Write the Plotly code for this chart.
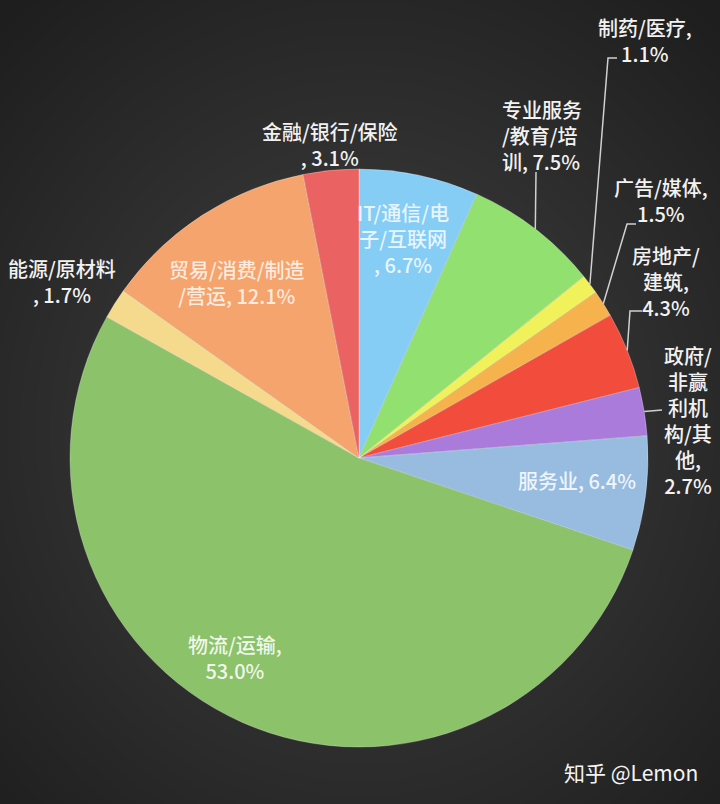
import numpy as np
import plotly.graph_objects as go

# ---------------- data ----------------
categories = ["IT/通信/电子/互联网", "专业服务/教育/培训", "制药/医疗", "广告/媒体",
              "房地产/建筑", "政府/非赢利机构/其他", "服务业", "物流/运输",
              "能源/原材料", "贸易/消费/制造/营运", "金融/银行/保险"]
values = [6.7, 7.5, 1.1, 1.5, 4.3, 2.7, 6.4, 53.0, 1.7, 12.1, 3.1]
label_texts = [
    "IT/通信/电<br>子/互联网<br>, 6.7%",
    "专业服务<br>/教育/培<br>训, 7.5%",
    "制药/医疗,<br>1.1%",
    "广告/媒体,<br>1.5%",
    "房地产/<br>建筑,<br>4.3%",
    "政府/<br>非赢<br>利机<br>构/其<br>他,<br>2.7%",
    "服务业, 6.4%",
    "物流/运输,<br>53.0%",
    "能源/原材料<br>, 1.7%",
    "贸易/消费/制造<br>/营运, 12.1%",
    "金融/银行/保险<br>, 3.1%",
]

# ---------------- styles / layout ----------------
W, H = 720, 804
CX, CY, R = 359, 458, 289
colors = ["#86cdf6", "#92e070", "#f1f15c", "#f6b24c", "#f24c3c", "#ab7bdb",
          "#98bce0", "#8cc26a", "#f5d98c", "#f5a46e", "#eb6262"]
# label block centre (px) and alignment
label_pos = [(403, 238, "center"), (500, 135, "left"), (645, 40, "center"),
             (661, 200, "center"), (666, 281, "center"), (688, 420, "center"),
             (577, 480, "center"), (235, 657, "center"), (62, 281, "center"),
             (237, 282, "center"), (330, 144, "center")]
label_colors = ["rgba(255,255,255,0.82)", "#f2f2f2", "#f2f2f2", "#f2f2f2", "#f2f2f2",
                "#f2f2f2", "rgba(255,255,255,0.85)", "rgba(255,255,255,0.88)",
                "#f2f2f2", "rgba(255,255,255,0.78)", "#f2f2f2"]
# leader line start points (px) per slice index: list of points before the slice edge
leaders = {1: [(536, 172)], 2: [(617, 58), (608, 58)], 3: [(636, 224), (627, 224)],
           4: [(642, 311), (630, 311)], 5: [(662, 410)]}
FONT = "Noto Sans CJK SC, Noto Sans, sans-serif"

fig = go.Figure()

# background radial gradient
gx = np.linspace(0, W, 60)
gy = np.linspace(0, H, 67)
XX, YY = np.meshgrid(gx, gy)
dist = np.sqrt(((XX - 360) / 520) ** 2 + ((YY - 430) / 560) ** 2)
zbg = np.clip(1 - dist, 0, 1)
fig.add_trace(go.Heatmap(x=gx, y=gy, z=zbg, zsmooth="best", showscale=False,
                         colorscale=[[0, "#1e1e1e"], [0.5, "#303030"], [1, "#434343"]],
                         zmin=0, zmax=1, hoverinfo="skip"))

fig.add_trace(go.Pie(
    labels=categories, values=values, sort=False, direction="clockwise", rotation=0,
    marker=dict(colors=colors, line=dict(color="rgba(255,255,255,0.35)", width=0.8)),
    textinfo="none", hoverinfo="label+percent", showlegend=False,
    domain=dict(x=[(CX - R) / W, (CX + R) / W], y=[1 - (CY + R) / H, 1 - (CY - R) / H]),
))

total = sum(values)
cum = np.cumsum([0] + values)
mid_angles = [(cum[i] + values[i] / 2) / total * 2 * np.pi for i in range(len(values))]

shapes = []
for i, pts in leaders.items():
    a = mid_angles[i]
    ex, ey = CX + R * np.sin(a), CY - R * np.cos(a)
    allp = pts + [(ex, ey)]
    path = "M " + " L ".join(f"{x:.1f},{y:.1f}" for x, y in allp)
    shapes.append(dict(type="path", path=path, xref="x", yref="y",
                       line=dict(color="#d0d0d0", width=1.5)))

annotations = []
for i, txt in enumerate(label_texts):
    x, y, al = label_pos[i]
    annotations.append(dict(
        x=x, y=y, xref="x", yref="y", text=txt, showarrow=False,
        xanchor="left" if al == "left" else "center", yanchor="middle", align=al,
        font=dict(family=FONT, size=20, color=label_colors[i], weight=500)))
annotations.append(dict(x=631, y=772, xref="x", yref="y", text="知乎 @Lemon", showarrow=False,
                        xanchor="center", yanchor="middle",
                        font=dict(family=FONT, size=21, color="#f4f4f4")))

fig.update_layout(
    width=W, height=H, margin=dict(l=0, r=0, t=0, b=0),
    paper_bgcolor="#2e2e2e", plot_bgcolor="#2e2e2e",
    xaxis=dict(range=[0, W], visible=False, fixedrange=True),
    yaxis=dict(range=[H, 0], visible=False, fixedrange=True),
    shapes=shapes, annotations=annotations,
)
fig.write_html("out.html", config={"displayModeBar": False},
               post_script="document.body.style.margin='0';document.body.style.padding='0';")
